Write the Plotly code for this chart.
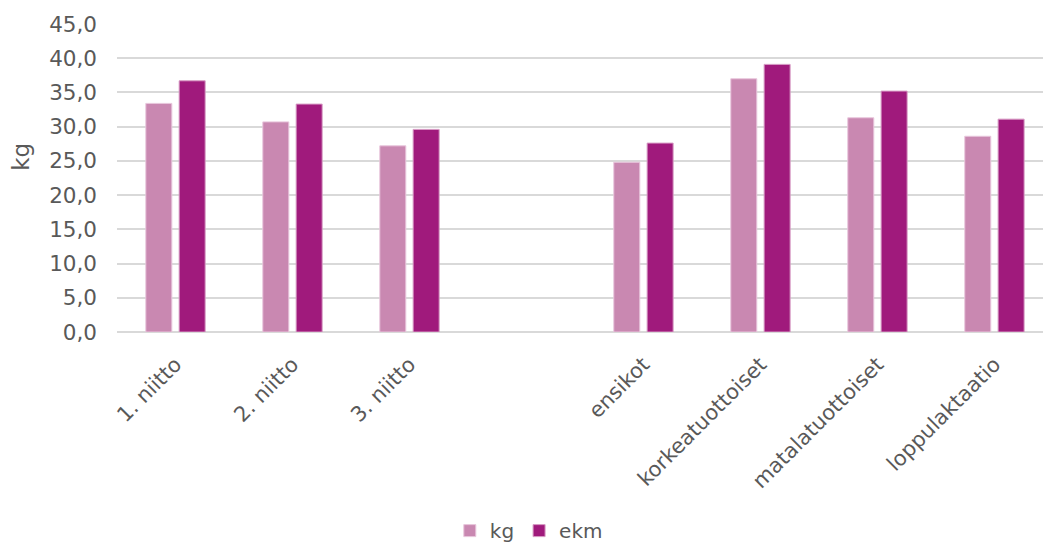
import plotly.graph_objects as go

categories = ["1. niitto", "2. niitto", "3. niitto", " ", "ensikot",
              "korkeatuottoiset", "matalatuottoiset", "loppulaktaatio"]
kg_values = [33.4, 30.7, 27.2, None, 24.8, 37.0, 31.3, 28.6]
ekm_values = [36.7, 33.3, 29.6, None, 27.6, 39.1, 35.2, 31.1]
y_ticks = [0, 5, 10, 15, 20, 25, 30, 35, 40, 45]

FONT = "DejaVu Sans"
TXT = "#595959"

fig = go.Figure()
fig.add_trace(go.Bar(name="kg", x=categories, y=kg_values,
                     marker=dict(color="#C988B1", line=dict(color="#E8C6DC", width=1))))
fig.add_trace(go.Bar(name="ekm", x=categories, y=ekm_values,
                     marker=dict(color="#A01A7C", line=dict(color="#D79BC4", width=1))))

fig.update_layout(
    width=1043, height=542,
    margin=dict(l=117, r=0, t=24, b=210),
    plot_bgcolor="white", paper_bgcolor="white",
    separators=", ",
    barmode="group", bargap=0.43, bargroupgap=0.22,
    font=dict(family=FONT, color=TXT, size=20),
    legend=dict(orientation="h", xref="container", yref="container",
                x=0.507, xanchor="center", y=0.021, yanchor="middle",
                font=dict(size=20, color=TXT), itemwidth=30,
                traceorder="normal"),
    showlegend=True,
)
fig.update_xaxes(type="category", categoryorder="array", categoryarray=categories,
                 range=[-0.5, 7.415],
                 tickangle=-45, tickfont=dict(size=21, color=TXT),
                 showgrid=False, showline=False, ticks="",
                 ticklabelstandoff=15, ticklabelshift=0)
fig.update_yaxes(range=[0, 45], tickvals=y_ticks, tickformat=".1f",
                 showgrid=True, gridcolor="#D9D9D9", gridwidth=1.5,
                 zeroline=True, zerolinecolor="#D9D9D9", zerolinewidth=1.5,
                 showline=False, ticks="", tickfont=dict(size=21.5, color=TXT),
                 ticklabelstandoff=19)
fig.add_annotation(text="kg", textangle=-90, xref="paper", yref="paper",
                   x=-0.104, y=0.568, xanchor="center", yanchor="middle",
                   showarrow=False, font=dict(size=23, color=TXT))

fig.write_html("out.html")
